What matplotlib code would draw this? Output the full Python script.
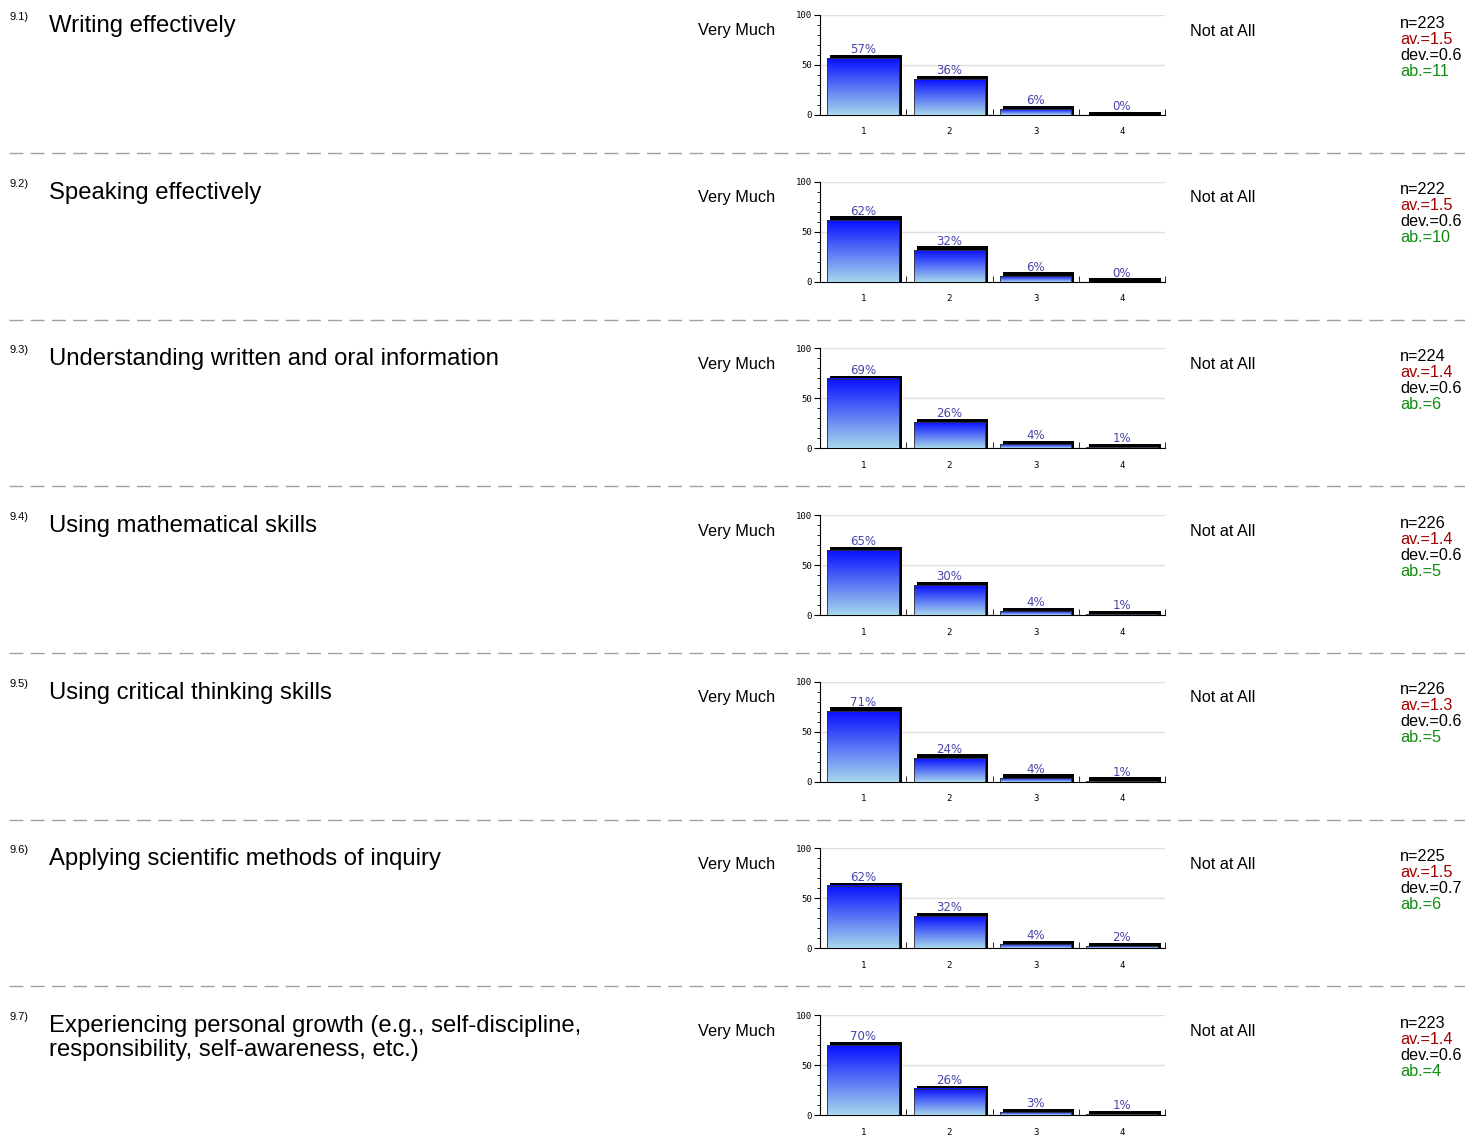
import numpy as np
import matplotlib
matplotlib.use("Agg")
import matplotlib.pyplot as plt
from matplotlib.colors import LinearSegmentedColormap
from matplotlib.lines import Line2D

plt.rcParams['font.family'] = ['Liberation Sans', 'DejaVu Sans']

# data
numbers = ['9.1)', '9.2)', '9.3)', '9.4)', '9.5)', '9.6)', '9.7)']
questions = [
    'Writing effectively',
    'Speaking effectively',
    'Understanding written and oral information',
    'Using mathematical skills',
    'Using critical thinking skills',
    'Applying scientific methods of inquiry',
    'Experiencing personal growth (e.g., self-discipline,\nresponsibility, self-awareness, etc.)',
]
categories = [1, 2, 3, 4]
percents = [
    [57, 36, 6, 0],
    [62, 32, 6, 0],
    [69, 26, 4, 1],
    [65, 30, 4, 1],
    [71, 24, 4, 1],
    [62, 32, 4, 2],
    [70, 26, 3, 1],
]
n_vals = [223, 222, 224, 226, 226, 225, 223]
av_vals = [1.5, 1.5, 1.4, 1.4, 1.3, 1.5, 1.4]
dev_vals = [0.6, 0.6, 0.6, 0.6, 0.6, 0.7, 0.6]
ab_vals = [11, 10, 6, 5, 5, 6, 4]
left_label = 'Very Much'
right_label = 'Not at All'

W, H = 1465, 1135
fig = plt.figure(figsize=(W / 100, H / 100), dpi=100)

def fx(px):
    return px / W

def fy(py):
    return 1 - py / H

grad = LinearSegmentedColormap.from_list('g', ['#a6d6ec', '#0a10ff'])
gimg = np.linspace(0, 1, 100).reshape(-1, 1)

row_h = 166.67
for i in range(len(questions)):
    y0 = i * row_h

    # question number + text (baseline refers to the last line for multiline text)
    extra = 24 * questions[i].count('\n')
    fig.text(fx(9), fy(y0 + 17), numbers[i], fontsize=8, va='center', ha='left')
    fig.text(fx(49), fy(y0 + 32 + extra), questions[i], fontsize=17.2, va='baseline', ha='left',
             linespacing=1.1)
    fig.text(fx(698), fy(y0 + 31), left_label, fontsize=11.7, va='center', ha='left')
    fig.text(fx(1190), fy(y0 + 31), right_label, fontsize=11.7, va='center', ha='left')

    # stats
    fig.text(fx(1400), fy(y0 + 23), 'n=%d' % n_vals[i], fontsize=11.7, va='center')
    fig.text(fx(1400), fy(y0 + 39), 'av.=%.1f' % av_vals[i], fontsize=11.7, va='center', color='#a00000')
    fig.text(fx(1400), fy(y0 + 55), 'dev.=%.1f' % dev_vals[i], fontsize=11.7, va='center')
    fig.text(fx(1400), fy(y0 + 71), 'ab.=%d' % ab_vals[i], fontsize=11.7, va='center', color='#108a10')

    # bar chart
    ax = fig.add_axes([fx(820), fy(y0 + 115), fx(1165) - fx(820), (100) / H])
    w = 0.83
    dx = 3 / 86.25
    dy = 3.5
    vals = percents[i]
    ax.bar([c + dx for c in categories], [v + dy for v in vals], width=w, color='black', zorder=2)
    for c, v in zip(categories, vals):
        if v > 0:
            ax.imshow(gimg, cmap=grad, extent=(c - w / 2, c + w / 2, 0, v), origin='lower',
                      aspect='auto', zorder=3)
            ax.add_patch(plt.Rectangle((c - w / 2, 0), w, v, fill=False, ec='#303030', lw=0.6, zorder=4))
        ax.annotate('%d%%' % v, (c, v + dy), xytext=(0, -1), textcoords='offset points',
                    ha='center', va='bottom', fontsize=8.5, color='#4646a8',
                    family='DejaVu Sans', zorder=5)
    ax.set_xlim(0.5, 4.5)
    ax.set_ylim(0, 100)
    ax.set_yticks([0, 50, 100])
    ax.set_yticks(range(0, 101, 10), minor=True)
    ax.set_xticks(categories)
    ax.set_xticks([1.5, 2.5, 3.5, 4.5], minor=True)
    ax.tick_params(axis='y', which='major', length=4, labelsize=6.5, pad=2)
    ax.tick_params(axis='y', which='minor', length=2)
    ax.tick_params(axis='x', which='major', length=0, labelsize=6.5, pad=9)
    ax.tick_params(axis='x', which='minor', direction='in', length=4)
    for lab in ax.get_xticklabels() + ax.get_yticklabels():
        lab.set_family('DejaVu Sans Mono')
    ax.grid(axis='y', which='major', color='#e0e0e0', lw=1, zorder=0)
    ax.spines['top'].set_visible(False)
    ax.spines['right'].set_visible(False)
    ax.set_axisbelow(True)

    # dashed separator
    if i < len(questions) - 1:
        ys = fy(y0 + 153)
        fig.add_artist(Line2D([fx(9), 1], [ys, ys], color='#a0a0a0', lw=1,
                              linestyle=(0, (10, 5.3))))

fig.savefig('out.png', dpi=100)
